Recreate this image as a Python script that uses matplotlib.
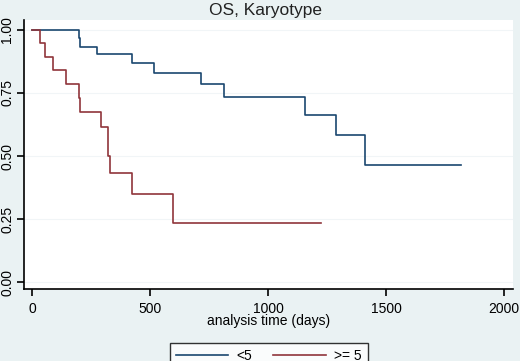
import numpy as np
import matplotlib.pyplot as plt

plt.rcParams['font.family'] = ['Liberation Sans', 'DejaVu Sans']

# Kaplan-Meier estimates
t_lt5 = [0, 199, 205, 274, 422, 517, 716, 814, 1157, 1288, 1412, 1816]
s_lt5 = [1.0, 0.967, 0.934, 0.905, 0.868, 0.828, 0.786, 0.735, 0.664, 0.582, 0.466, 0.466]

t_ge5 = [0, 34, 55, 90, 143, 199, 205, 291, 323, 330, 422, 596, 1223]
s_ge5 = [1.0, 0.950, 0.894, 0.841, 0.786, 0.73, 0.674, 0.616, 0.50, 0.434, 0.348, 0.233, 0.233]

xticks = [0, 500, 1000, 1500, 2000]
yticks = [0.0, 0.25, 0.5, 0.75, 1.0]
ylabels = ["0.00", "0.25", "0.50", "0.75", "1.00"]

bg = "#eaf2f3"
navy = "#1a476f"
maroon = "#90353b"

fig = plt.figure(figsize=(5.2, 3.61), dpi=100, facecolor=bg)
ax = fig.add_axes([0.046, 0.199, 0.941, 0.746])
ax.set_facecolor("white")

ax.step(t_lt5, s_lt5, where="post", color=navy, lw=1.2, label="<5")
ax.step(t_ge5, s_ge5, where="post", color=maroon, lw=1.2, label=">= 5")

ax.set_xlim(-34, 2038)
ax.set_ylim(-0.028, 1.04)
ax.set_xticks(xticks)
ax.set_yticks(yticks)
ax.set_yticklabels(ylabels, rotation=90, va="center")
for y in yticks:
    ax.axhline(y, color="#f1f5f7", lw=0.8, zorder=0)

for s in ["top", "right"]:
    ax.spines[s].set_visible(False)
ax.spines["left"].set_linewidth(1.2)
ax.spines["bottom"].set_linewidth(1.2)
ax.tick_params(axis="both", labelsize=10, length=5, width=1.2)
ax.tick_params(axis="x", pad=4)
ax.tick_params(axis="y", pad=2)

ax.set_xlabel("analysis time (days)", fontsize=10, labelpad=-1)
fig.text(0.51, 0.972, "OS, Karyotype", ha="center", va="center", fontsize=12.5, color="#222222")

leg = fig.legend(loc="upper center", bbox_to_anchor=(0.517, 0.05), ncol=2,
                 fontsize=10, frameon=True, fancybox=False, handlelength=3.8,
                 handletextpad=0.6, columnspacing=1.5, borderpad=0.4,
                 borderaxespad=0.0)
leg.get_frame().set_edgecolor("black")
leg.get_frame().set_linewidth(1.0)

fig.savefig("out.png", dpi=100, facecolor=bg)
